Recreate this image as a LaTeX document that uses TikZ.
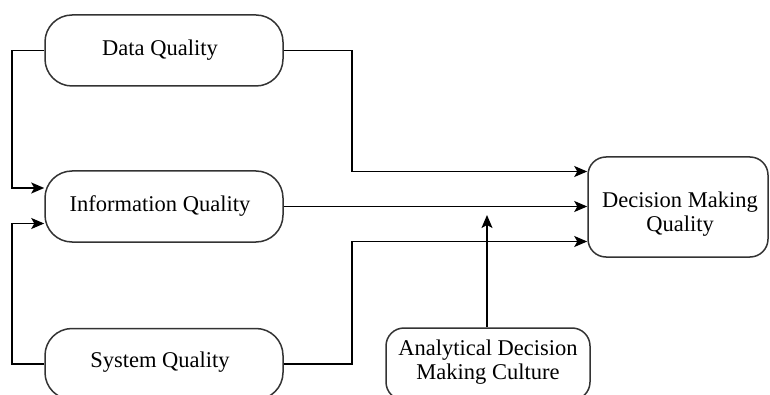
\documentclass[tikz,border=0pt]{standalone}
\usepackage{fontspec}
\setmainfont{Liberation Serif}
\newfontfamily\tnrfont{Liberation Serif}
\usetikzlibrary{arrows.meta,calc}
\begin{document}
\begin{tikzpicture}[x=1pt,y=-1pt,
  boxbase/.style={draw=black!80, line width=1.5pt, fill=white, inner sep=0pt, align=center,
    font=\tnrfont\fontsize{22.5}{24}\selectfont},
  stadium/.style={boxbase, rounded corners=27pt, minimum width=238pt, minimum height=71pt},
  rbox/.style={boxbase, rounded corners=18pt},
  txt/.style={inner sep=0pt, align=center, font=\tnrfont\fontsize{22.5}{24}\selectfont},
  conn/.style={line width=1.5pt, -{Stealth[length=13pt,width=11pt,inset=3pt]}}]
\useasboundingbox (0,0) rectangle (770,395);
\clip (0,0) rectangle (770,395);
\fill[white] (0,0) rectangle (770,395);

% boxes
\node[stadium] (dq) at (164,50.5) {};
\node[stadium] (iq) at (164,206.5) {};
\node[stadium] (sq) at (164,364) {};
\node[rbox, minimum width=204pt, minimum height=72pt] (ana) at (488,364) {};
\node[rbox, minimum width=180pt, minimum height=100pt] (dmq) at (678,207) {};

% texts
\node[txt] (dqtext) at (160,50) {Data Quality};
\node[txt] (iqtext) at (160,206.5) {Information Quality};
\node[txt] (sqtext) at (160,362) {System Quality};
\node[txt] (anatext) at (488,362) {Analytical Decision\\Making Culture};
\node[txt] (dmqtext) at (680,214) {Decision Making\\Quality};

% helper coordinates
\coordinate (lx) at (12,0);
\coordinate (bx) at (352,0);
\coordinate (in1) at ($(dmq.west)+(0,-35.5)$);
\coordinate (in3) at ($(dmq.west)+(0,34.5)$);
\coordinate (iin1) at ($(iq.west)+(0,-18.5)$);
\coordinate (iin2) at ($(iq.west)+(0,17)$);
\coordinate (tip) at (487,215);

% connectors
\draw[conn] (dq.east) -- (dq.east -| bx) |- (in1);
\draw[conn] (iq.east) -- (iq.east -| dmq.west);
\draw[conn] (sq.east) -- (sq.east -| bx) |- (in3);
\draw[conn] (dq.west) -- (dq.west -| lx) |- (iin1);
\draw[conn] (sq.west) -- (sq.west -| lx) |- (iin2);
\draw[conn] (ana.north -| tip) -- (tip);
\end{tikzpicture}
\end{document}
